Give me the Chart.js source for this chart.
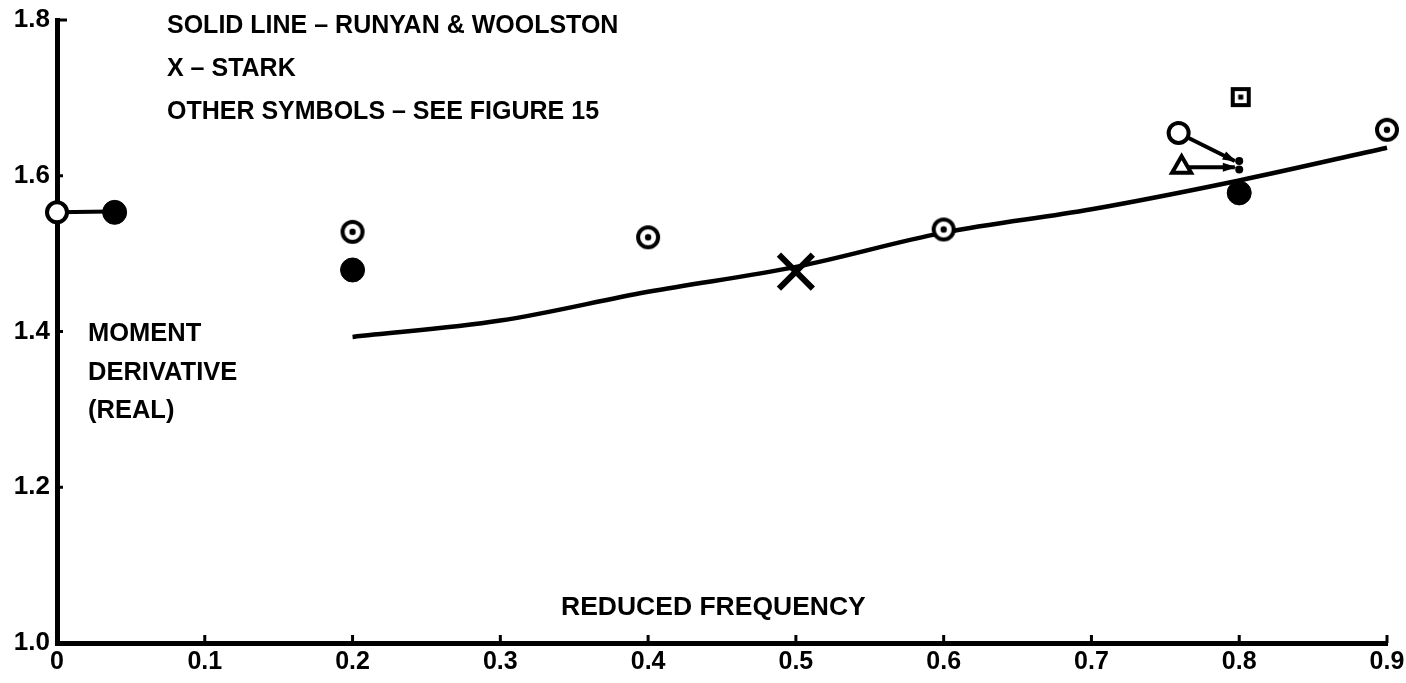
<!DOCTYPE html>
<html>
<head>
<meta charset="utf-8">
<script src="https://cdn.jsdelivr.net/npm/chart.js@4.4.1/dist/chart.umd.min.js"></script>
<style>
  html, body { margin: 0; padding: 0; background: #fff; }
  #wrap { width: 1406px; height: 683px; }
</style>
</head>
<body>
<div id="wrap"><canvas id="chart" width="1406" height="683"></canvas></div>
<script>
// --- Data ---
const xTicks = [0, 0.1, 0.2, 0.3, 0.4, 0.5, 0.6, 0.7, 0.8, 0.9];
const xTickLabels = ['0', '0.1', '0.2', '0.3', '0.4', '0.5', '0.6', '0.7', '0.8', '0.9'];
const yTicks = [1.0, 1.2, 1.4, 1.6, 1.8];
const yTickLabels = ['1.0', '1.2', '1.4', '1.6', '1.8'];

// solid line - Runyan & Woolston
const curveX = [0.2, 0.3, 0.4, 0.5, 0.6, 0.7, 0.8, 0.9];
const curveY = [1.393, 1.414, 1.451, 1.483, 1.527, 1.557, 1.594, 1.636];

// X - Stark
const starkX = [0.5];
const starkY = [1.477];

// other symbols (see figure 15)
const openCircleX = [0, 0.759];
const openCircleY = [1.553, 1.655];
const filledCircleX = [0.039, 0.2, 0.8];
const filledCircleY = [1.553, 1.479, 1.578];
const dotCircleX = [0.2, 0.4, 0.6, 0.9];
const dotCircleY = [1.528, 1.521, 1.531, 1.659];
const triangleX = [0.761];
const triangleY = [1.611];
const dotSquareX = [0.801];
const dotSquareY = [1.701];
const smallDotX = [0.8, 0.8];
const smallDotY = [1.619, 1.608];

// connecting arrows [fromX, fromY, toX, toY]
const arrows = [
    [0.0, 1.553, 0.036, 1.554],
    [0.759, 1.655, 0.797, 1.619],
    [0.761, 1.611, 0.797, 1.611]
];

const INK = '#000';
const FONT = '"Liberation Sans", Arial, sans-serif';

const pts = (xs, ys) => xs.map((x, i) => ({ x: x, y: ys[i] }));

// --- custom point glyphs ---
function dotCircle() {
    const c = document.createElement('canvas');
    c.width = 28; c.height = 28;
    const g = c.getContext('2d');
    g.fillStyle = '#fff';
    g.beginPath(); g.arc(14, 14, 10, 0, Math.PI * 2); g.fill();
    g.strokeStyle = INK; g.lineWidth = 4;
    g.beginPath(); g.arc(14, 14, 10, 0, Math.PI * 2); g.stroke();
    g.fillStyle = INK;
    g.beginPath(); g.arc(14, 14, 3.2, 0, Math.PI * 2); g.fill();
    return c;
}

function dotSquare() {
    const c = document.createElement('canvas');
    c.width = 22; c.height = 22;
    const g = c.getContext('2d');
    g.fillStyle = INK;
    g.fillRect(1, 1, 20, 20);
    g.fillStyle = '#fff';
    g.fillRect(5, 5, 12, 12);
    g.fillStyle = INK;
    g.fillRect(8.5, 8.5, 5, 5);
    return c;
}

// --- plugins ---
const inwardTicks = {
    id: 'inwardTicks',
    afterDatasetsDraw(chart) {
        const { ctx, scales: { x, y } } = chart;
        ctx.save();
        ctx.strokeStyle = INK;
        ctx.lineWidth = 3;
        ctx.lineCap = 'butt';
        xTicks.forEach(v => {
            if (v === 0) return;
            const px = x.getPixelForValue(v);
            ctx.beginPath();
            ctx.moveTo(px, y.bottom);
            ctx.lineTo(px, y.bottom - 8);
            ctx.stroke();
        });
        yTicks.forEach(v => {
            if (v === 1.0) return;
            const py = y.getPixelForValue(v);
            ctx.beginPath();
            ctx.moveTo(x.left, py);
            ctx.lineTo(x.left + (v === 1.8 ? 10 : 6), py);
            ctx.stroke();
        });
        ctx.restore();
    }
};

const arrowHeads = {
    id: 'arrowHeads',
    afterDatasetsDraw(chart) {
        const { ctx, scales: { x, y } } = chart;
        ctx.save();
        ctx.fillStyle = INK;
        arrows.slice(1).forEach(a => {
            const x0 = x.getPixelForValue(a[0]), y0 = y.getPixelForValue(a[1]);
            const x1 = x.getPixelForValue(a[2]), y1 = y.getPixelForValue(a[3]);
            const ang = Math.atan2(y1 - y0, x1 - x0);
            ctx.save();
            ctx.translate(x1, y1);
            ctx.rotate(ang);
            ctx.beginPath();
            ctx.moveTo(2, 0);
            ctx.lineTo(-12, -4.5);
            ctx.lineTo(-12, 4.5);
            ctx.closePath();
            ctx.fill();
            ctx.restore();
        });
        ctx.restore();
    }
};

// lettering helper (optionally squeezed horizontally)
function letter(ctx, text, left, baseline, size, squeeze) {
    ctx.save();
    ctx.font = 'bold ' + size + 'px ' + FONT;
    ctx.textBaseline = 'alphabetic';
    ctx.textAlign = 'left';
    ctx.translate(left, baseline);
    ctx.scale(squeeze, 1);
    ctx.fillText(text, 0, 0);
    ctx.restore();
}

const notes = {
    id: 'notes',
    afterDraw(chart) {
        const ctx = chart.ctx;
        ctx.fillStyle = INK;
        letter(ctx, 'SOLID LINE \u2013 RUNYAN & WOOLSTON', 167, 33, 25, 1);
        letter(ctx, 'X \u2013 STARK', 167, 76, 25, 1);
        letter(ctx, 'OTHER SYMBOLS \u2013 SEE FIGURE 15', 167, 119, 25, 1);
        letter(ctx, 'MOMENT', 88, 341, 25, 1.02);
        letter(ctx, 'DERIVATIVE', 88, 380, 25, 1.02);
        letter(ctx, '(REAL)', 88, 418, 25, 1.02);
        letter(ctx, 'REDUCED FREQUENCY', 561, 615, 25, 1.06);
    }
};

// --- chart ---
const markerBase = { showLine: false, borderColor: INK, order: 1, clip: false };

const datasets = [
    {
        label: 'Runyan & Woolston',
        type: 'line',
        data: pts(curveX, curveY),
        borderColor: INK,
        borderWidth: 4.5,
        tension: 0.35,
        pointRadius: 0,
        fill: false,
        clip: false,
        order: 5
    },
    ...arrows.map(a => ({
        type: 'line',
        data: [{ x: a[0], y: a[1] }, { x: a[2], y: a[3] }],
        borderColor: INK,
        borderWidth: 4,
        pointRadius: 0,
        fill: false,
        clip: false,
        order: 4
    })),
    { ...markerBase, label: 'Stark', data: pts(starkX, starkY), pointStyle: 'crossRot', pointRadius: 24, borderWidth: 6 },
    { ...markerBase, label: 'open circle', data: pts(openCircleX, openCircleY), pointStyle: 'circle', pointRadius: 10, borderWidth: 4, backgroundColor: '#fff' },
    { ...markerBase, label: 'filled circle', data: pts(filledCircleX, filledCircleY), pointStyle: 'circle', pointRadius: 12, borderWidth: 1, backgroundColor: INK },
    { ...markerBase, label: 'dot circle', data: pts(dotCircleX, dotCircleY), pointStyle: dotCircle() },
    { ...markerBase, label: 'triangle', data: pts(triangleX, triangleY), pointStyle: 'triangle', pointRadius: 11, borderWidth: 4, backgroundColor: '#fff' },
    { ...markerBase, label: 'dot square', data: pts(dotSquareX, dotSquareY), pointStyle: dotSquare() },
    { ...markerBase, label: 'small dot', data: pts(smallDotX, smallDotY), pointStyle: 'circle', pointRadius: 4, borderWidth: 0, backgroundColor: INK }
];

// pin the plot area to where the original axes sit
const noPad = () => ({ left: 0, top: 0, right: 0, bottom: 0 });

new Chart(document.getElementById('chart').getContext('2d'), {
    type: 'scatter',
    data: { datasets: datasets },
    options: {
        responsive: false,
        animation: false,
        layout: { autoPadding: false, padding: { top: 20, right: 19, left: 0, bottom: 0 } },
        plugins: {
            legend: { display: false },
            tooltip: { enabled: false }
        },
        elements: { point: { hoverRadius: 0 } },
        scales: {
            x: {
                type: 'linear',
                min: 0,
                max: 0.9,
                afterFit: s => { s.height = 40; s.getPadding = noPad; },
                afterBuildTicks: s => { s.ticks = xTicks.map(v => ({ value: v })); },
                border: { display: true, color: INK, width: 5 },
                grid: { display: false, drawTicks: false },
                ticks: {
                    color: INK,
                    padding: 4,
                    maxRotation: 0,
                    autoSkip: false,
                    font: { family: FONT, size: 25, weight: 'bold' },
                    callback: (v) => xTickLabels[xTicks.findIndex(t => Math.abs(t - v) < 1e-6)]
                }
            },
            y: {
                type: 'linear',
                min: 1.0,
                max: 1.8,
                afterFit: s => { s.width = 57; s.getPadding = noPad; },
                afterBuildTicks: s => { s.ticks = yTicks.map(v => ({ value: v })); },
                border: { display: true, color: INK, width: 5 },
                grid: { display: false, drawTicks: false },
                ticks: {
                    color: INK,
                    padding: 7,
                    autoSkip: false,
                    font: { family: FONT, size: 26, weight: 'bold' },
                    callback: (v) => yTickLabels[yTicks.findIndex(t => Math.abs(t - v) < 1e-6)]
                }
            }
        }
    },
    plugins: [inwardTicks, arrowHeads, notes]
});
</script>
</body>
</html>
